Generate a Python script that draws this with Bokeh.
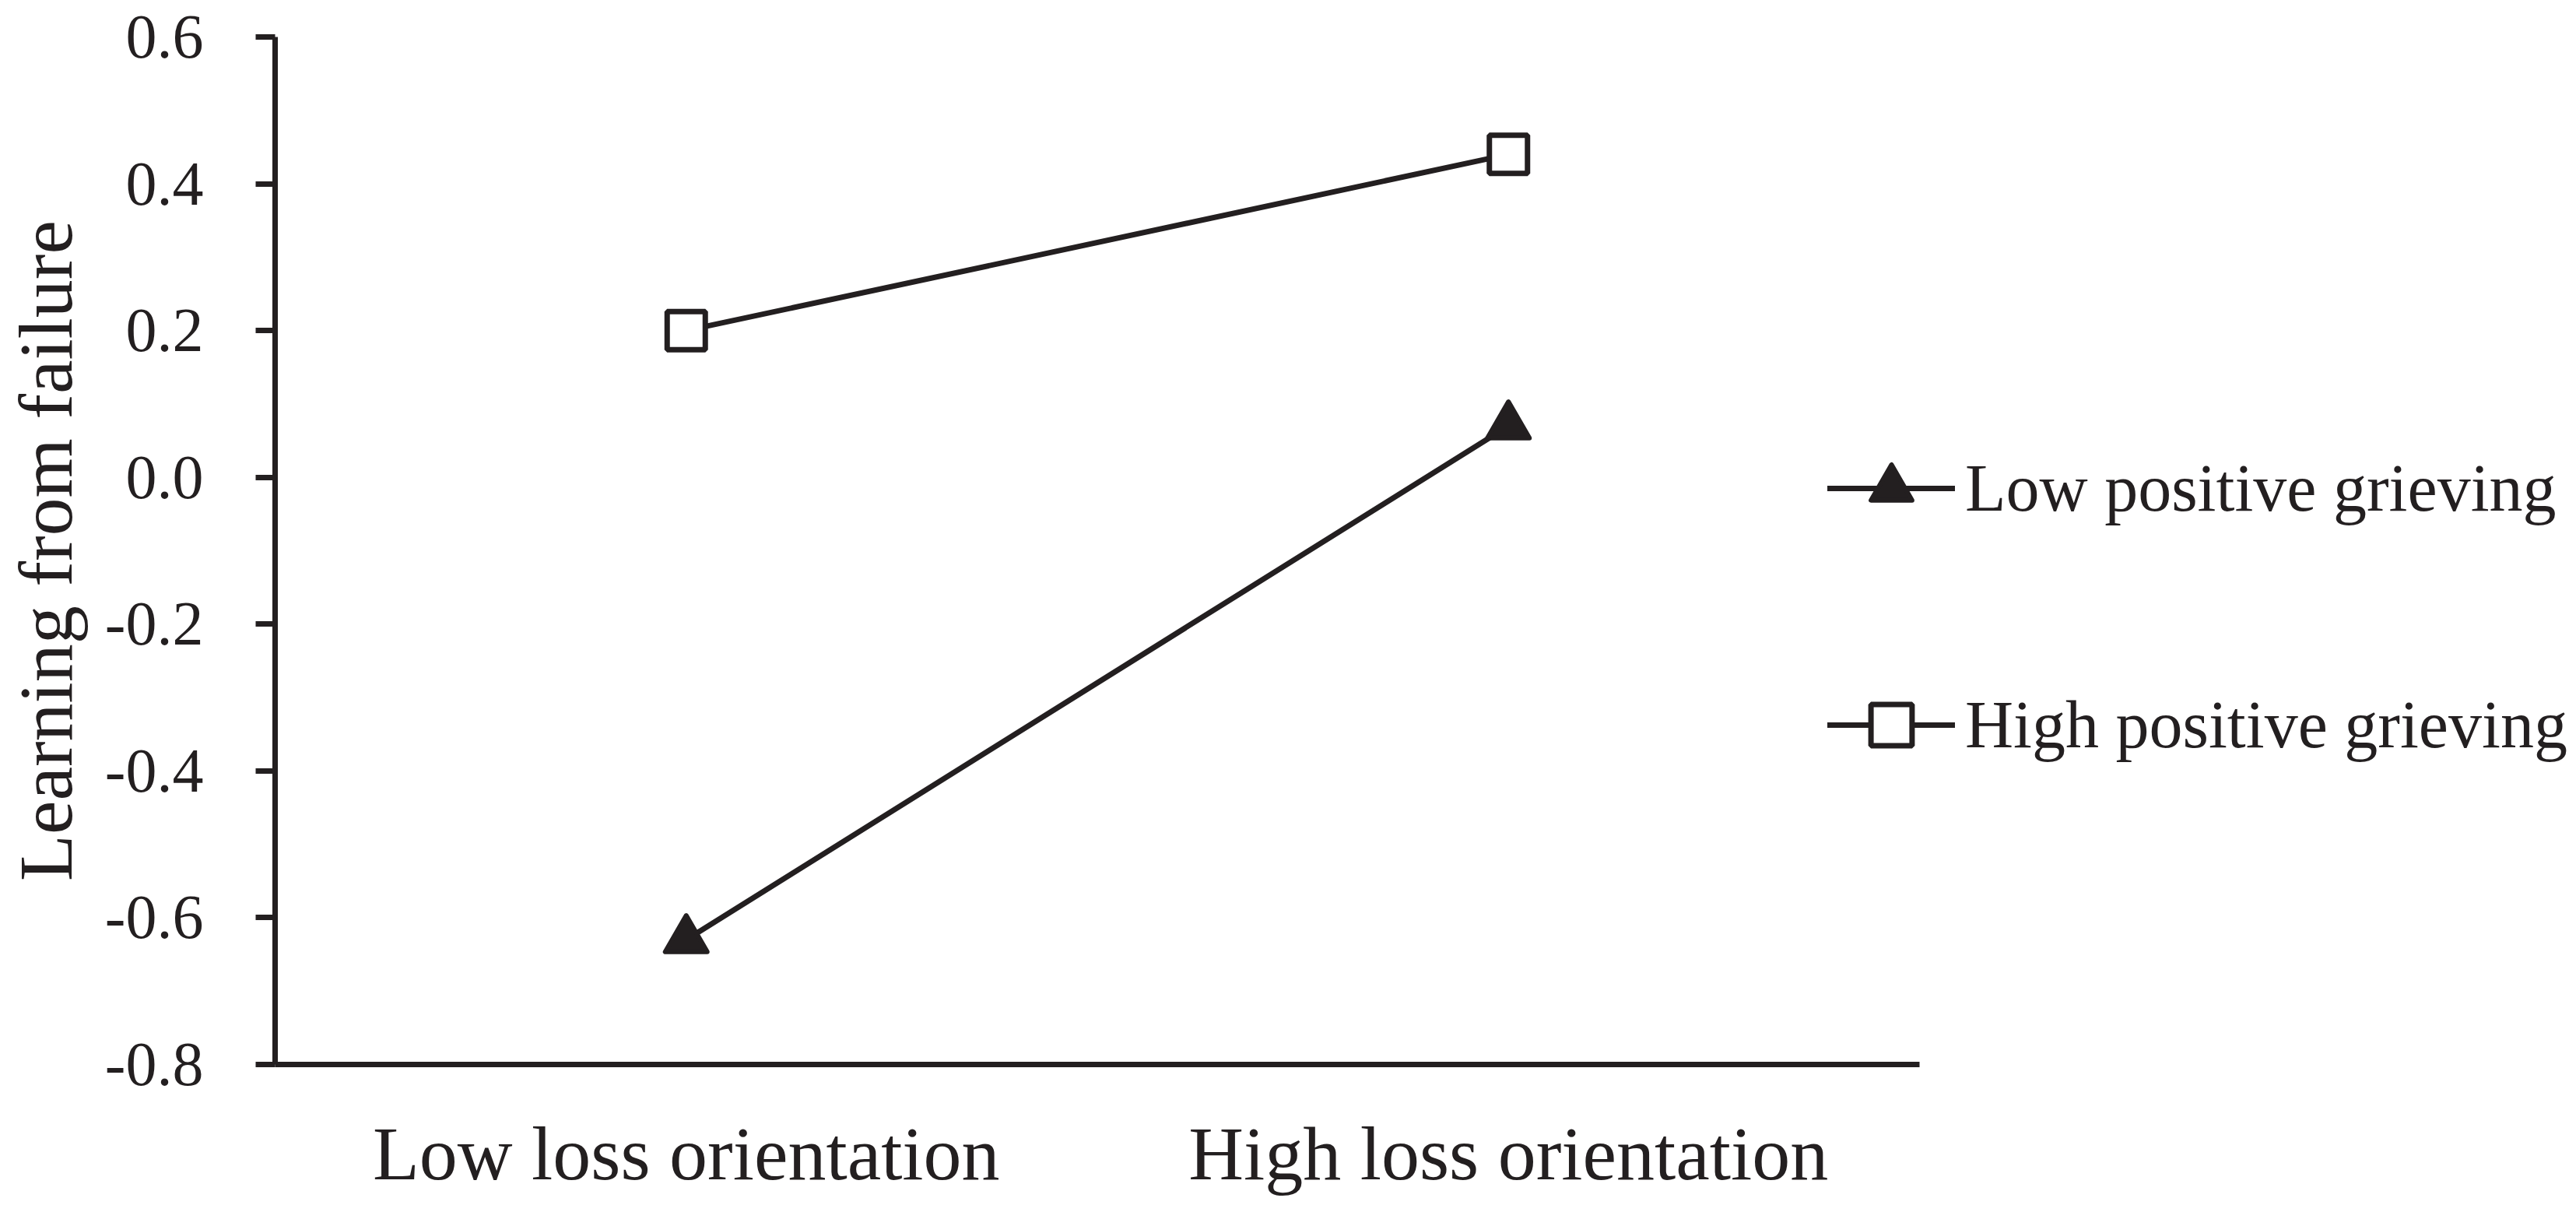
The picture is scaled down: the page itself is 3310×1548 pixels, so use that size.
from bokeh.plotting import figure
from bokeh.models import Range1d, FixedTicker, Legend, LegendItem
from bokeh.embed import file_html
from bokeh.resources import INLINE

# ---- data ----
categories = ["Low loss orientation", "High loss orientation"]
series_names = ["Low positive grieving", "High positive grieving"]
low_pg = [-0.63, 0.07]
high_pg = [0.20, 0.44]
y_ticks = [-0.8, -0.6, -0.4, -0.2, 0.0, 0.2, 0.4, 0.6]
y_tick_labels = ["-0.8", "-0.6", "-0.4", "-0.2", "0.0", "0.2", "0.4", "0.6"]
y_title = "Learning from failure"

# category slot centres on a numeric scale (slot i spans [i, i+1])
x_pos = [i + 0.5 for i in range(len(categories))]

INK = "#231f20"
FONT = "Liberation Serif"

W, H = 3308, 1546
FRAME_L, FRAME_T, FRAME_B = 353, 47, 1367
AXIS_LEN = 2113  # pixel length of the drawn x axis (2 category slots)
x_end = len(categories) * (W - FRAME_L) / AXIS_LEN

p = figure(
    width=W, height=H,
    x_range=Range1d(0, x_end),
    y_range=Range1d(-0.8, 0.6),
    output_backend="svg", toolbar_location=None,
    min_border_left=FRAME_L, min_border_right=0,
    min_border_top=FRAME_T, min_border_bottom=H - FRAME_B,
)
p.outline_line_color = None
p.xgrid.visible = False
p.ygrid.visible = False
p.background_fill_color = "white"
p.border_fill_color = "white"

ya = p.yaxis[0]
ya.ticker = FixedTicker(ticks=y_ticks)
ya.major_label_overrides = dict(zip(y_ticks, y_tick_labels))
ya.axis_line_width = 7
ya.axis_line_color = INK
ya.major_tick_line_width = 7
ya.major_tick_line_color = INK
ya.major_tick_out = 25
ya.major_tick_in = 0
ya.minor_tick_line_color = None
ya.major_label_text_font = FONT
ya.major_label_text_font_size = "80px"
ya.major_label_text_color = INK
ya.major_label_standoff = 67
ya.axis_label = y_title
ya.axis_label_text_font = FONT
ya.axis_label_text_font_size = "98px"
ya.axis_label_text_font_style = "normal"
ya.axis_label_text_color = INK
ya.axis_label_standoff = 19

xa = p.xaxis[0]
xa.ticker = FixedTicker(ticks=x_pos)
xa.major_label_overrides = dict(zip(x_pos, categories))
xa.bounds = (0, len(categories))
xa.axis_line_width = 7
xa.axis_line_color = INK
xa.major_tick_line_color = None
xa.minor_tick_line_color = None
xa.major_tick_out = 0
xa.major_tick_in = 0
xa.major_label_text_font = FONT
xa.major_label_text_font_size = "98px"
xa.major_label_text_color = INK
xa.major_label_standoff = 60

r1 = p.line(x_pos, low_pg, line_width=7, line_color=INK, line_cap="round")
r2 = p.scatter(x_pos, low_pg, marker="triangle", size=54, fill_color=INK,
               line_color=INK, line_width=6, line_join="round")
r3 = p.line(x_pos, high_pg, line_width=7, line_color=INK, line_cap="round")
r4 = p.scatter(x_pos, high_pg, marker="square", size=49, fill_color="white",
               line_color=INK, line_width=7)

legend = Legend(
    items=[LegendItem(label=series_names[0], renderers=[r1, r2]),
           LegendItem(label=series_names[1], renderers=[r3, r4])],
    location=(1995, 370), orientation="vertical",
    glyph_width=164, glyph_height=132, spacing=172,
    padding=0, margin=0, label_standoff=13,
    label_text_font=FONT, label_text_font_size="86px", label_text_color=INK,
    border_line_color=None, background_fill_alpha=0,
)
p.add_layout(legend)

open("out.html", "w").write(file_html(p, INLINE))
